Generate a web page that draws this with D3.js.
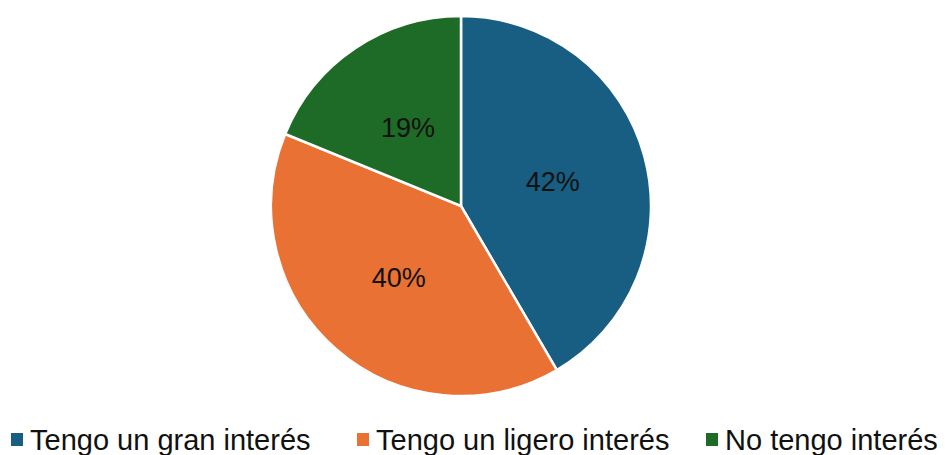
<!DOCTYPE html>
<html>
<head>
<meta charset="utf-8">
<script src="https://cdn.jsdelivr.net/npm/d3@7"></script>
<style>
  body { margin: 0; background: #fff; }
  svg { display: block; font-family: "Liberation Sans", Arial, sans-serif; }
</style>
</head>
<body>
<svg id="chart"></svg>
<script>
const categories = ['Tengo un gran interés', 'Tengo un ligero interés', 'No tengo interés'];
const values = [42, 40, 19];
const labels = ['42%', '40%', '19%'];
const colors = ['#185e82', '#e97133', '#1e6b27'];

const width = 945, height = 455;
const cx = 461, cy = 206, radius = 190;

const svg = d3.select('#chart').attr('width', width).attr('height', height);

const pie = d3.pie().sort(null).value(d => d.v);
const data = categories.map((c, i) => ({ c: c, v: values[i], l: labels[i], col: colors[i] }));
const arcs = pie(data);
const arc = d3.arc().innerRadius(0).outerRadius(radius);

const g = svg.append('g').attr('transform', `translate(${cx},${cy})`);

g.selectAll('path')
  .data(arcs)
  .enter()
  .append('path')
  .attr('d', arc)
  .attr('fill', d => d.data.col)
  .attr('stroke', '#fff')
  .attr('stroke-width', 2.5);

g.selectAll('text')
  .data(arcs)
  .enter()
  .append('text')
  .attr('x', d => arc.centroid(d)[0])
  .attr('y', d => arc.centroid(d)[1])
  .attr('dy', '0.35em')
  .attr('text-anchor', 'middle')
  .style('font-size', '27px')
  .attr('fill', '#111')
  .text(d => d.data.l);

// legend
const legendX = [11, 357, 706];
const legend = svg.append('g').attr('transform', 'translate(0,450)');
const items = legend.selectAll('g')
  .data(data)
  .enter()
  .append('g')
  .attr('transform', (d, i) => `translate(${legendX[i]},0)`);

items.append('rect')
  .attr('x', 0)
  .attr('y', -17)
  .attr('width', 12)
  .attr('height', 13)
  .attr('fill', d => d.col);

items.append('text')
  .attr('x', 19)
  .attr('y', 0)
  .style('font-size', '29px')
  .attr('fill', '#111')
  .text(d => d.c);
</script>
</body>
</html>
